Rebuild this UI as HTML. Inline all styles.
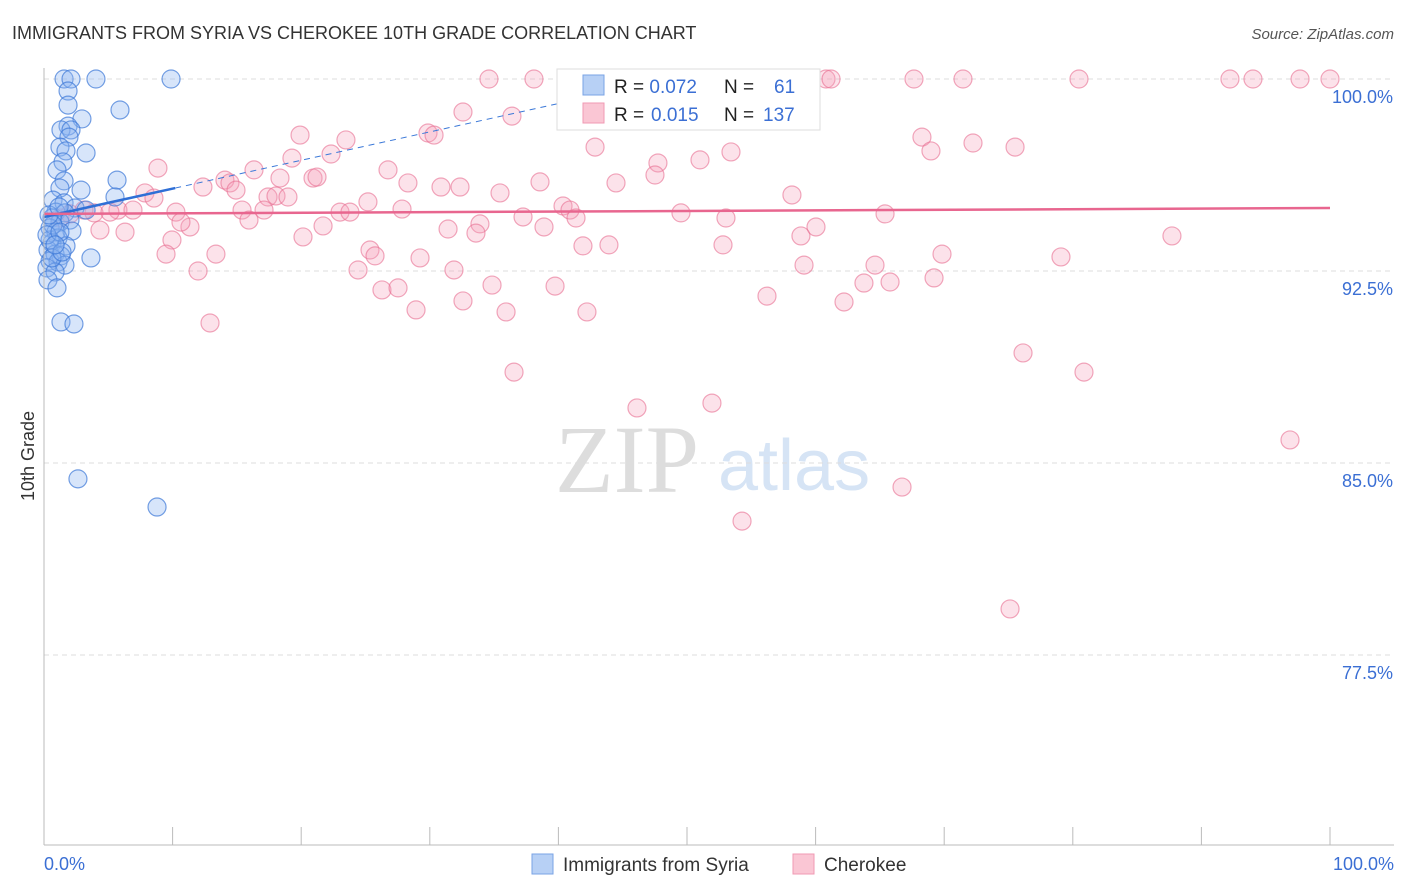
<!DOCTYPE html>
<html><head><meta charset="utf-8"><style>
body{margin:0;background:#fff;font-family:"Liberation Sans",sans-serif;}
svg{display:block}
</style></head><body>
<svg id="c" width="1406" height="892" xmlns="http://www.w3.org/2000/svg">
<text x="12" y="39" font-size="18" fill="#333">IMMIGRANTS FROM SYRIA VS CHEROKEE 10TH GRADE CORRELATION CHART</text>
<text x="1394" y="39" font-size="15" fill="#555" font-style="italic" text-anchor="end">Source: ZipAtlas.com</text>
<text x="34" y="456" font-size="18" fill="#333" text-anchor="middle" transform="rotate(-90 34 456)">10th Grade</text>
<text x="555" y="492" font-size="96" fill="#ddd" font-family="Liberation Serif,serif">ZIP</text>
<text x="718" y="490" font-size="72" fill="#d6e4f5">atlas</text>
<g id="grid"></g><g id="pts"></g><g id="trend"></g>
<line x1="44" y1="68" x2="44" y2="845" stroke="#bbb"/>
<line x1="44" y1="845" x2="1394" y2="845" stroke="#bbb"/>
<g id="xt"></g>
<text x="44" y="870" font-size="18" fill="#3b6fd4">0.0%</text>
<text x="1394" y="870" font-size="18" fill="#3b6fd4" text-anchor="end">100.0%</text>
<g>
<rect x="557" y="69" width="263" height="61" fill="#fff" stroke="#ddd"/>
<rect x="583" y="75" width="21" height="20" fill="#b7d0f5" stroke="#7aa3e5"/>
<rect x="583" y="103" width="21" height="20" fill="#fac6d4" stroke="#f09ab3"/>
<text x="614" y="93" font-size="19" fill="#222">R = <tspan fill="#3b6fd4">0.072</tspan><tspan x="724">N = </tspan><tspan x="774" fill="#3b6fd4">61</tspan></text>
<text x="614" y="121" font-size="19" fill="#222">R = <tspan x="651" fill="#3b6fd4">0.015</tspan><tspan x="724">N = </tspan><tspan x="763" fill="#3b6fd4">137</tspan></text>
</g>
<g>
<rect x="532" y="854" width="21" height="20" fill="#b7d0f5" stroke="#7aa3e5"/>
<text x="563" y="871" font-size="19" fill="#333">Immigrants from Syria</text>
<rect x="793" y="854" width="21" height="20" fill="#fac6d4" stroke="#f09ab3"/>
<text x="824" y="871" font-size="19" fill="#333">Cherokee</text>
</g>
</svg>
<script>
const yTicks=[100,92.5,85,77.5];
const yTickLabels=["100.0%","92.5%","85.0%","77.5%"];
const xTicks=[0,10,20,30,40,50,60,70,80,90,100];
const syriaPx=[[64,79],[71,79],[96,79],[171,79],[68,91],[68,105],[120,110],[82,119],[68,126],[61,130],[71,130],[69,137],[60,147],[86,153],[66,151],[63,162],[57,170],[117,180],[64,181],[60,188],[81,190],[115,197],[53,200],[64,203],[75,208],[86,210],[56,212],[65,213],[52,218],[60,222],[70,220],[50,228],[56,232],[72,231],[58,238],[52,243],[66,246],[48,250],[55,254],[61,256],[91,258],[50,261],[58,262],[65,265],[47,268],[55,272],[48,280],[57,288],[61,322],[74,324],[78,479],[157,507],[50,240],[53,225],[47,235],[60,232],[52,258],[62,252],[55,245],[49,215],[59,207]];
const cherPx=[[489,79],[534,79],[645,79],[718,79],[800,79],[826,79],[831,79],[914,79],[963,79],[1079,79],[1230,79],[1253,79],[1300,79],[1330,79],[512,116],[300,135],[346,140],[428,133],[434,135],[922,137],[931,151],[973,143],[1015,147],[595,147],[331,154],[292,158],[731,152],[700,160],[658,163],[158,168],[254,170],[388,170],[225,180],[280,178],[313,178],[317,177],[230,183],[655,175],[540,182],[408,183],[616,183],[203,187],[236,190],[441,187],[460,187],[500,193],[145,193],[268,197],[276,196],[288,197],[154,198],[792,195],[563,206],[570,210],[118,210],[133,210],[242,210],[264,210],[402,209],[340,212],[350,212],[368,202],[176,212],[94,213],[681,213],[885,214],[523,217],[576,218],[249,220],[190,227],[181,222],[726,218],[100,230],[125,232],[816,227],[544,227],[480,224],[448,229],[476,233],[323,226],[303,237],[172,240],[801,236],[1172,236],[609,245],[583,246],[723,245],[370,250],[375,256],[166,254],[216,254],[420,258],[942,254],[1061,257],[804,265],[875,265],[358,270],[454,270],[198,271],[934,278],[864,283],[890,282],[492,285],[382,290],[398,288],[555,286],[463,301],[844,302],[767,296],[416,310],[506,312],[587,312],[210,323],[1023,353],[1084,372],[514,372],[637,408],[712,403],[1290,440],[902,487],[742,521],[1010,609],[710,110],[463,112],[60,218],[70,214],[84,210],[110,212]];
// convert to data values (x %, y %)
const toX=p=>(p-44)/12.86, toY=p=>100-(p-79)/25.6;
const syriaX=syriaPx.map(p=>+toX(p[0]).toFixed(2)), syriaY=syriaPx.map(p=>+toY(p[1]).toFixed(2));
const cherX=cherPx.map(p=>+toX(p[0]).toFixed(2)), cherY=cherPx.map(p=>+toY(p[1]).toFixed(2));
const syriaTrend=[94.61,95.74]; // at x=0 and x=10.2
const cherTrend=[94.73,94.96]; // at x=0 and x=100
const sx=v=>44+v*12.86, sy=v=>79+(100-v)*25.6;
const NS="http://www.w3.org/2000/svg";
function mk(t,a,parent){const e=document.createElementNS(NS,t);for(const k in a)e.setAttribute(k,a[k]);document.getElementById(parent).appendChild(e);return e;}
yTicks.forEach((v,i)=>{
 const l=mk('line',{x1:44,x2:1394,y1:sy(v),y2:sy(v),stroke:'#ddd','stroke-dasharray':'5,4'},'grid');
 
 
 const t=mk('text',{x:1393,y:sy(v)+24,'font-size':18,fill:'#3b6fd4','text-anchor':'end'},'grid');
 t.textContent=yTickLabels[i];
 
 
});
xTicks.forEach(v=>{
 const l=mk('line',{x1:sx(v),x2:sx(v),y1:827,y2:845,stroke:'#bbb'},'xt');
 
 
});
cherX.forEach((x,i)=>{
 const c=mk('circle',{cx:sx(x),cy:sy(cherY[i]),r:9,fill:'rgba(246,160,185,0.3)',stroke:'rgba(232,110,145,0.6)','stroke-width':1.2},'pts');
 
 
});
syriaX.forEach((x,i)=>{
 const c=mk('circle',{cx:sx(x),cy:sy(syriaY[i]),r:9,fill:'rgba(140,180,240,0.35)',stroke:'rgba(60,120,215,0.7)','stroke-width':1.2},'pts');
 
 
});
const slope=(syriaTrend[1]-syriaTrend[0])/10.2;
const xEnd=Math.min(100,(100-syriaTrend[0])/slope);
let l=mk('line',{x1:sx(10.2),y1:sy(syriaTrend[1]),x2:sx(xEnd),y2:sy(syriaTrend[0]+slope*xEnd),stroke:'#3b78d8','stroke-width':1,'stroke-dasharray':'6,5'},'trend');


l=mk('line',{x1:sx(0),y1:sy(syriaTrend[0]),x2:sx(10.2),y2:sy(syriaTrend[1]),stroke:'#2f6fd6','stroke-width':2.5},'trend');


l=mk('line',{x1:sx(0),y1:sy(cherTrend[0]),x2:sx(100),y2:sy(cherTrend[1]),stroke:'#e8668f','stroke-width':2.5},'trend');


</script>
</body></html>
